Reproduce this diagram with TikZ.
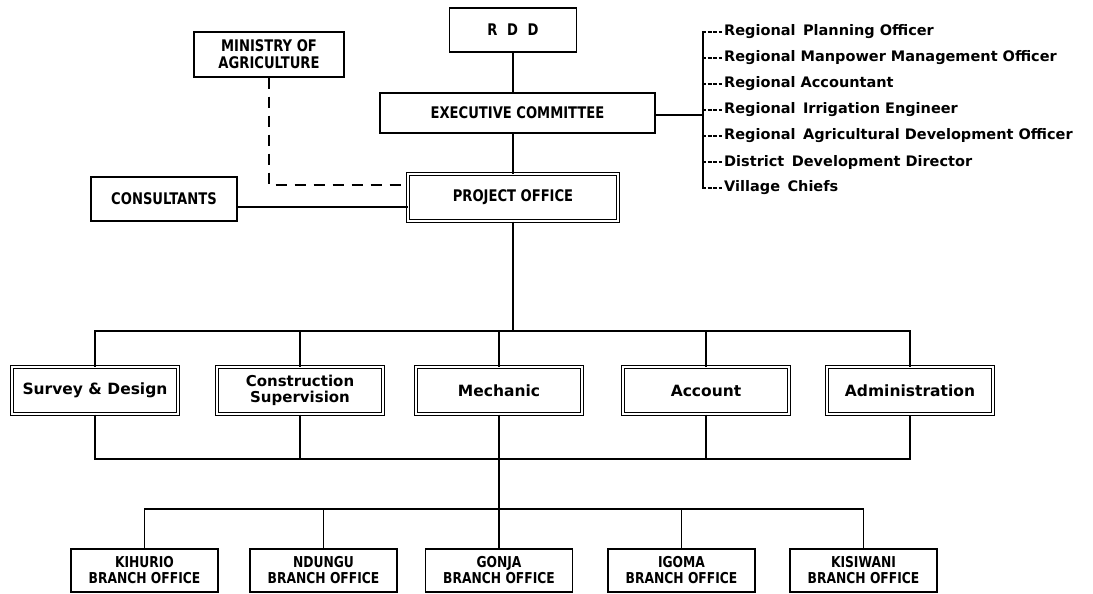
\documentclass[tikz,border=0pt]{standalone}
\usepackage{fontspec}
\setmainfont{DejaVu Sans}
\newfontfamily\capsf[FakeStretch=0.82]{DejaVu Sans}
\begin{document}
\begin{tikzpicture}[x=1pt,y=-1pt,
  conn/.style={line width=1.8pt},
  dashline/.style={line width=1.8pt, dash pattern=on 11pt off 8pt},
  leader/.style={line width=1.1pt, dash pattern=on 4pt off 1.5pt},
  sbox/.style={draw, line width=1.4pt, inner sep=0pt, align=center,
    font=\capsf\bfseries\fontsize{16}{17}\selectfont},
  dbox/.style={draw, double, double distance=2.4pt, line width=1pt, inner sep=0pt,
    align=center, minimum width=166pt, minimum height=47pt,
    font=\bfseries\fontsize{15.5}{17.5}\selectfont},
  bbox/.style={draw, line width=1.4pt, inner sep=0pt, align=center,
    minimum width=147pt, minimum height=43pt,
    font=\capsf\bfseries\fontsize{15}{16}\selectfont},
  item/.style={anchor=west, inner sep=0pt, font=\bfseries\fontsize{14.5}{17}\selectfont}]
\fill[white] (0,0) rectangle (1093,594);
\useasboundingbox (0,0) rectangle (1093,594);

% top level
\node[sbox, minimum width=127pt, minimum height=44pt] (rdd) at (513,30) {R\hspace{0.6em}D\hspace{0.6em}D};
\node[sbox, minimum width=150pt, minimum height=45pt] (min) at (269,54.5) {MINISTRY OF\\AGRICULTURE};
\node[sbox, minimum width=275pt, minimum height=40pt] (exec) at (517.5,113) {EXECUTIVE COMMITTEE};
\node[sbox, minimum width=146pt, minimum height=44pt] (cons) at (164,199) {CONSULTANTS};
\node[dbox, minimum width=210pt, minimum height=47pt, font=\capsf\bfseries\fontsize{16}{17}\selectfont] (po) at (513,197.5) {PROJECT OFFICE};

% list of members
\node[item] (i1) at (724,32) {Regional\, Planning Officer};
\node[item] (i2) at (724,58) {Regional Manpower Management Officer};
\node[item] (i3) at (724,84) {Regional Accountant};
\node[item] (i4) at (724,110) {Regional\, Irrigation Engineer};
\node[item] (i5) at (724,136) {Regional\, Agricultural Development Officer};
\node[item] (i6) at (724,162) {District\, Development Director};
\node[item] (i7) at (724,188) {Village\, Chiefs};
\coordinate (br) at (703,115);

% departments
\node[dbox] (sd) at (95,390.5) {Survey \& Design};
\node[dbox, font=\bfseries\fontsize{15}{16.5}\selectfont] (cs) at (300,390.5) {Construction\\Supervision};
\node[dbox] (me) at (499,390.5) {Mechanic};
\node[dbox] (ac) at (706,390.5) {Account};
\node[dbox] (ad) at (910,390.5) {Administration};

% branch offices
\node[bbox] (kh) at (144.5,570.5) {KIHURIO\\BRANCH OFFICE};
\node[bbox] (nd) at (323.5,570.5) {NDUNGU\\BRANCH OFFICE};
\node[bbox] (go) at (499,570.5) {GONJA\\BRANCH OFFICE};
\node[bbox] (ig) at (681.5,570.5) {IGOMA\\BRANCH OFFICE};
\node[bbox] (ks) at (863.5,570.5) {KISIWANI\\BRANCH OFFICE};

\coordinate (busA) at (513,331);
\coordinate (busB) at (499,459);
\coordinate (busC) at (499,509);

% connectors, top
\draw[conn] (rdd.south) -- (rdd.south |- exec.north);
\draw[conn] (po.north) -- (po.north |- exec.south);
\draw[dashline] (min.south) |- ([yshift=12.5pt]po.west);
\draw[conn] ([yshift=-8pt]cons.east) -- ([yshift=-8pt]cons.east -| po.west);

% bracket to list
\draw[conn] ([yshift=-2pt]exec.east) -- ([yshift=-2pt]exec.east -| br);
\draw[conn] (i1.west -| br) -- (i7.west -| br);
\foreach \i in {1,...,7}{
  \draw[leader] ([xshift=-1pt]i\i.west -| br) -- ([xshift=-2pt]i\i.west);
}

% upper bus
\draw[conn] (po.south) -- (busA);
\draw[conn] (sd.north) |- (busA) -| (ad.north);
\draw[conn] (cs.north) -- (cs.north |- busA);
\draw[conn] (me.north) -- (me.north |- busA);
\draw[conn] (ac.north) -- (ac.north |- busA);

% lower bus
\draw[conn] (sd.south) |- (busB) -| (ad.south);
\draw[conn] (cs.south) -- (cs.south |- busB);
\draw[conn] (ac.south) -- (ac.south |- busB);
\draw[conn] (me.south) -- (busC);

% branch bus
\draw[conn] (kh.north) |- (busC) -| (ks.north);
\draw[conn] (nd.north) -- (nd.north |- busC);
\draw[conn] (go.north) -- (busC);
\draw[conn] (ig.north) -- (ig.north |- busC);
\end{tikzpicture}
\end{document}
